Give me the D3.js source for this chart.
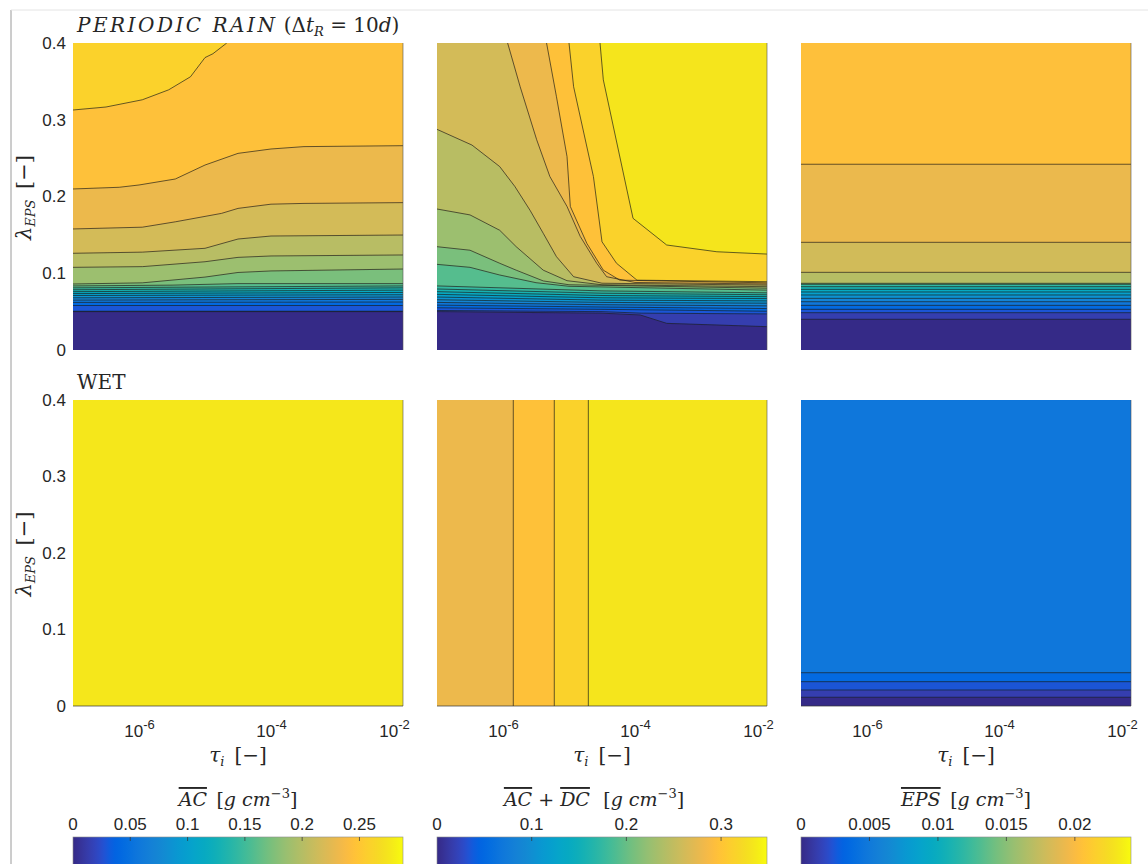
<!DOCTYPE html>
<html>
<head>
<meta charset="utf-8">
<script src="https://cdn.jsdelivr.net/npm/d3@7"></script>
<style>
  body { margin: 0; background: #fff; }
  text { font-family: "Liberation Sans", Arial, sans-serif; fill: #262626; }
  .tex { font-family: "DejaVu Serif", "Liberation Serif", serif; }
</style>
</head>
<body>
<svg id="fig" width="1148" height="864"></svg>
<script>
// ---------------- axis ticks ----------------
const tauDomain = [1e-7, 1e-2];
const lambdaDomain = [0, 0.4];
const tauTicks = [1e-6, 1e-4, 1e-2];
const lambdaTicks = [0, 0.1, 0.2, 0.3, 0.4];

// colour limits and colourbar ticks of the three columns
const climAC = 0.288, climACDC = 0.3485, climEPS = 0.0241;
const ticksAC = [0, 0.05, 0.1, 0.15, 0.2, 0.25];
const ticksACDC = [0, 0.1, 0.2, 0.3];
const ticksEPS = [0, 0.005, 0.01, 0.015, 0.02];

// ---------------- contour data ----------------
// Each entry: [level, [[log10 tau, lambda], ...]]; the region with values >= level
// lies on the left-hand side of the vertex order. Base value fills the panel first.

// Periodic rain, AC
const rainACBase = 0;
const rainACLines = [
  [0.0144, [[-7, 0.050], [-2, 0.050]]],
  [0.0288, [[-7, 0.0505], [-2, 0.0505]]],
  [0.0432, [[-7, 0.058], [-2, 0.058]]],
  [0.0576, [[-7, 0.062], [-2, 0.0625]]],
  [0.0720, [[-7, 0.065], [-2, 0.066]]],
  [0.0864, [[-7, 0.068], [-2, 0.069]]],
  [0.1008, [[-7, 0.071], [-2, 0.072]]],
  [0.1152, [[-7, 0.0735], [-2, 0.075]]],
  [0.1296, [[-7, 0.076], [-2, 0.078]]],
  [0.1440, [[-7, 0.0785], [-2, 0.081]]],
  [0.1584, [[-7, 0.081], [-2, 0.0835]]],
  [0.1728, [[-7, 0.0835], [-5.5, 0.0845], [-4.5, 0.0865], [-2, 0.0865]]],
  [0.1872, [[-7, 0.086], [-5.95, 0.0875], [-5.0, 0.095], [-4.5, 0.101], [-4.0, 0.103], [-2, 0.1055]]],
  [0.2016, [[-7, 0.1077], [-5.95, 0.1086], [-5.0, 0.115], [-4.5, 0.1207], [-4.0, 0.1225], [-2, 0.1238]]],
  [0.2160, [[-7, 0.126], [-5.95, 0.1275], [-5.0, 0.1325], [-4.5, 0.1446], [-4.0, 0.1485], [-2, 0.1498]]],
  [0.2304, [[-7, 0.1577], [-5.95, 0.160], [-5.45, 0.167], [-4.75, 0.178], [-4.5, 0.1845], [-4.0, 0.190], [-3.5, 0.191], [-2, 0.192]]],
  [0.2448, [[-7, 0.2098], [-6.3, 0.212], [-6.0, 0.215], [-5.45, 0.2228], [-5.0, 0.241], [-4.5, 0.2562], [-4.0, 0.2619], [-3.5, 0.265], [-2, 0.2662]]],
  [0.2592, [[-7, 0.3127], [-6.5, 0.3166], [-5.95, 0.326], [-5.55, 0.339], [-5.22, 0.356], [-5.0, 0.381], [-4.88, 0.386], [-4.67, 0.4]]]
];

// Periodic rain, AC + DC
const rainACDCBase = 0;
const rainACDCLines = [
  [0.0174, [[-7, 0.050], [-4.5, 0.048], [-3.92, 0.0456], [-3.52, 0.0347], [-2, 0.0304]]],
  [0.0349, [[-7, 0.0515], [-4.5, 0.050], [-3.9, 0.048], [-2, 0.047]]],
  [0.0523, [[-7, 0.0550], [-4.5, 0.053], [-2, 0.0505]]],
  [0.0698, [[-7, 0.0585], [-4.5, 0.056], [-2, 0.054]]],
  [0.0872, [[-7, 0.0620], [-4.5, 0.059], [-2, 0.0575]]],
  [0.1047, [[-7, 0.0655], [-4.5, 0.062], [-2, 0.061]]],
  [0.1221, [[-7, 0.0690], [-4.5, 0.065], [-2, 0.064]]],
  [0.1396, [[-7, 0.0725], [-4.5, 0.068], [-2, 0.067]]],
  [0.1570, [[-7, 0.0760], [-4.5, 0.071], [-2, 0.0695]]],
  [0.1745, [[-7, 0.0795], [-4.5, 0.074], [-2, 0.072]]],
  [0.1919, [[-7, 0.0835], [-4.5, 0.077], [-2, 0.0745]]],
  [0.2094, [[-7, 0.1116], [-6.5, 0.1077], [-6.05, 0.0977], [-5.5, 0.0877], [-5.0, 0.083], [-2, 0.078]]],
  [0.2268, [[-7, 0.1346], [-6.5, 0.130], [-6.05, 0.113], [-5.8, 0.104], [-5.39, 0.090], [-5.0, 0.085], [-2, 0.0805]]],
  [0.2443, [[-7, 0.1837], [-6.5, 0.176], [-6.05, 0.156], [-5.8, 0.1346], [-5.39, 0.104], [-5.03, 0.0903], [-4.5, 0.085], [-2, 0.0825]]],
  [0.2617, [[-7, 0.2875], [-6.47, 0.267], [-6.05, 0.239], [-5.82, 0.213], [-5.59, 0.182], [-5.39, 0.152], [-5.19, 0.1216], [-4.93, 0.0955], [-4.5, 0.087], [-2, 0.0845]]],
  [0.2792, [[-5.93, 0.4], [-5.74, 0.343], [-5.49, 0.274], [-5.29, 0.226], [-5.03, 0.187], [-4.83, 0.148], [-4.58, 0.113], [-4.43, 0.0955], [-4.0, 0.088], [-2, 0.086]]],
  [0.2966, [[-5.34, 0.4], [-5.19, 0.33], [-5.03, 0.252], [-4.98, 0.187], [-4.73, 0.139], [-4.48, 0.104], [-4.23, 0.091], [-2, 0.0875]]],
  [0.3141, [[-5.0, 0.4], [-4.93, 0.343], [-4.63, 0.226], [-4.5, 0.141], [-4.28, 0.113], [-3.97, 0.091], [-2, 0.089]]],
  [0.3330, [[-4.53, 0.4], [-4.48, 0.352], [-4.03, 0.1716], [-3.52, 0.1368], [-2.76, 0.128], [-2, 0.125]]]
];

// Periodic rain, EPS
const rainEPSBase = 0;
const rainEPSLines = [
  [0.0012, [[-7, 0.0400], [-2, 0.0400]]],
  [0.0024, [[-7, 0.0486], [-2, 0.0486]]],
  [0.0036, [[-7, 0.0530], [-2, 0.0530]]],
  [0.0048, [[-7, 0.0582], [-2, 0.0582]]],
  [0.0060, [[-7, 0.0629], [-2, 0.0629]]],
  [0.0072, [[-7, 0.0673], [-2, 0.0673]]],
  [0.0084, [[-7, 0.0717], [-2, 0.0717]]],
  [0.0096, [[-7, 0.0756], [-2, 0.0756]]],
  [0.0108, [[-7, 0.0790], [-2, 0.0790]]],
  [0.0120, [[-7, 0.0825], [-2, 0.0825]]],
  [0.0132, [[-7, 0.0856], [-2, 0.0856]]],
  [0.0168, [[-7, 0.0869], [-2, 0.0869]]],
  [0.0180, [[-7, 0.1012], [-2, 0.1012]]],
  [0.0192, [[-7, 0.1403], [-2, 0.1403]]],
  [0.0204, [[-7, 0.2420], [-2, 0.2420]]]
];

// Wet, AC
const wetACBase = 0.2760;
const wetACLines = [];

// Wet, AC + DC
const wetACDCBase = 0.2792;
const wetACDCLines = [
  [0.2966, [[-5.844, 0.4], [-5.844, 0]]],
  [0.3141, [[-5.223, 0.4], [-5.223, 0]]],
  [0.3330, [[-4.707, 0.4], [-4.707, 0]]]
];

// Wet, EPS
const wetEPSBase = 0;
const wetEPSLines = [
  [0.0012, [[-7, 0.0114], [-2, 0.0114]]],
  [0.0024, [[-7, 0.0209], [-2, 0.0209]]],
  [0.0036, [[-7, 0.0318], [-2, 0.0318]]],
  [0.0048, [[-7, 0.0435], [-2, 0.0435]]]
];

// ---------------- parula colour map ----------------
const parulaRGB = [
  [0.2081,0.1663,0.5292],[0.2116,0.1898,0.5777],[0.2123,0.2138,0.6270],[0.2081,0.2386,0.6771],
  [0.1959,0.2645,0.7279],[0.1707,0.2919,0.7792],[0.1253,0.3242,0.8303],[0.0591,0.3598,0.8683],
  [0.0117,0.3875,0.8820],[0.0060,0.4086,0.8828],[0.0165,0.4266,0.8786],[0.0329,0.4430,0.8720],
  [0.0498,0.4586,0.8641],[0.0629,0.4737,0.8554],[0.0723,0.4887,0.8467],[0.0779,0.5040,0.8384],
  [0.0793,0.5200,0.8312],[0.0749,0.5375,0.8263],[0.0641,0.5570,0.8240],[0.0488,0.5772,0.8228],
  [0.0343,0.5966,0.8199],[0.0265,0.6137,0.8135],[0.0239,0.6287,0.8038],[0.0231,0.6418,0.7913],
  [0.0228,0.6535,0.7768],[0.0267,0.6642,0.7607],[0.0384,0.6743,0.7436],[0.0590,0.6838,0.7254],
  [0.0843,0.6928,0.7062],[0.1133,0.7015,0.6859],[0.1453,0.7098,0.6646],[0.1801,0.7177,0.6424],
  [0.2178,0.7250,0.6193],[0.2586,0.7317,0.5954],[0.3022,0.7376,0.5712],[0.3482,0.7424,0.5473],
  [0.3953,0.7459,0.5244],[0.4420,0.7481,0.5033],[0.4871,0.7491,0.4840],[0.5300,0.7491,0.4661],
  [0.5709,0.7485,0.4494],[0.6099,0.7473,0.4337],[0.6473,0.7456,0.4188],[0.6834,0.7435,0.4044],
  [0.7184,0.7411,0.3905],[0.7525,0.7384,0.3768],[0.7858,0.7356,0.3633],[0.8185,0.7327,0.3498],
  [0.8507,0.7299,0.3360],[0.8824,0.7274,0.3217],[0.9139,0.7258,0.3063],[0.9450,0.7261,0.2886],
  [0.9739,0.7314,0.2666],[0.9938,0.7455,0.2403],[0.9990,0.7653,0.2164],[0.9955,0.7861,0.1967],
  [0.9880,0.8066,0.1794],[0.9789,0.8271,0.1633],[0.9697,0.8481,0.1475],[0.9626,0.8705,0.1309],
  [0.9589,0.8949,0.1132],[0.9598,0.9218,0.0948],[0.9661,0.9514,0.0755],[0.9763,0.9831,0.0538]
];
const parulaHex = parulaRGB.map(c => d3.rgb(c[0] * 255, c[1] * 255, c[2] * 255).formatHex());
const parula = d3.piecewise(d3.interpolateRgb, parulaHex);

// ---------------- layout ----------------
const colX = [[73, 403], [437, 767], [801, 1131]];
const rowY = [[43, 350], [400, 706]];

const svg = d3.select("#fig");

// thin frame lines at the figure's left and top
svg.append("line").attr("x1", 11).attr("x2", 11).attr("y1", 10).attr("y2", 864)
  .attr("stroke", "#9a9a9a").attr("stroke-width", 1);
svg.append("line").attr("x1", 11).attr("x2", 1148).attr("y1", 10).attr("y2", 10)
  .attr("stroke", "#e4e4e4").attr("stroke-width", 1);

const panels = [
  { row: 0, col: 0, base: rainACBase, lines: rainACLines, clim: climAC },
  { row: 0, col: 1, base: rainACDCBase, lines: rainACDCLines, clim: climACDC },
  { row: 0, col: 2, base: rainEPSBase, lines: rainEPSLines, clim: climEPS },
  { row: 1, col: 0, base: wetACBase, lines: wetACLines, clim: climAC },
  { row: 1, col: 1, base: wetACDCBase, lines: wetACDCLines, clim: climACDC },
  { row: 1, col: 2, base: wetEPSBase, lines: wetEPSLines, clim: climEPS }
];

function drawPanel(p, i) {
  const [x0, x1] = colX[p.col];
  const [y0, y1] = rowY[p.row];
  const xs = d3.scaleLog().domain(tauDomain).range([x0, x1]);
  const ys = d3.scaleLinear().domain(lambdaDomain).range([y1, y0]);
  const color = d3.scaleSequential([0, p.clim], parula).clamp(true);
  const g = svg.append("g");

  const clipId = "clip" + i;
  svg.append("clipPath").attr("id", clipId).append("rect")
    .attr("x", x0).attr("y", y0).attr("width", x1 - x0).attr("height", y1 - y0);
  const body = g.append("g").attr("clip-path", `url(#${clipId})`);

  // data-space boundary, walked counter-clockwise by perimeter parameter s
  const lx0 = Math.log10(tauDomain[0]), lx1 = Math.log10(tauDomain[1]);
  const ly0 = lambdaDomain[0], ly1 = lambdaDomain[1];
  const Wd = lx1 - lx0, Hd = ly1 - ly0, P = 2 * (Wd + Hd);
  const eps = 1e-9;
  const perim = ([x, y]) => {
    if (Math.abs(y - ly0) < eps) return x - lx0;
    if (Math.abs(x - lx1) < eps) return Wd + (y - ly0);
    if (Math.abs(y - ly1) < eps) return Wd + Hd + (lx1 - x);
    return 2 * Wd + Hd + (ly1 - y);
  };
  const corners = [[0, [lx0, ly0]], [Wd, [lx1, ly0]], [Wd + Hd, [lx1, ly1]], [2 * Wd + Hd, [lx0, ly1]]];

  const toXY = d => [xs(Math.pow(10, d[0])), ys(d[1])];
  const line = d3.line().x(d => toXY(d)[0]).y(d => toXY(d)[1]);

  // base fill
  body.append("rect").attr("x", x0).attr("y", y0).attr("width", x1 - x0).attr("height", y1 - y0)
    .attr("fill", color(p.base));

  // super-level regions, lowest level first
  const sorted = p.lines.slice().sort((a, b) => a[0] - b[0]);
  sorted.forEach(([level, pts]) => {
    const sEnd = perim(pts[pts.length - 1]);
    let sStart = perim(pts[0]);
    if (sStart <= sEnd) sStart += P;
    const extra = [];
    [0, 1].forEach(lap => corners.forEach(([s, c]) => {
      const ss = s + lap * P;
      if (ss > sEnd + eps && ss < sStart - eps) extra.push([ss, c]);
    }));
    extra.sort((a, b) => a[0] - b[0]);
    const poly = pts.concat(extra.map(e => e[1]));
    body.append("path").attr("d", line(poly) + "Z")
      .attr("fill", color(level)).attr("stroke", color(level)).attr("stroke-width", 0.6);
  });

  // contour lines
  sorted.forEach(([level, pts]) => {
    body.append("path").attr("d", line(pts)).attr("fill", "none")
      .attr("stroke", "#1a1a1a").attr("stroke-width", 0.8).attr("stroke-opacity", 0.85);
  });

  // right and bottom edges
  g.append("path").attr("d", `M${x1},${y0}V${y1}`).attr("stroke", "#555").attr("stroke-opacity", 0.6).attr("stroke-width", 1);
  if (p.row === 1) g.append("path").attr("d", `M${x0},${y1}H${x1}`).attr("stroke", "#333").attr("stroke-opacity", 0.7).attr("stroke-width", 1);

  // y axis (left column only)
  if (p.col === 0) {
    const ya = g.append("g").attr("transform", `translate(${x0},0)`)
      .call(d3.axisLeft(ys).tickValues(lambdaTicks).tickSize(0).tickPadding(7)
        .tickFormat(d => d === 0 ? "0" : d3.format(".1f")(d)));
    ya.select(".domain").remove();
    ya.selectAll("text").attr("font-size", 17).attr("fill", "#262626");

    const lab = g.append("text").attr("class", "tex").attr("font-size", 21)
      .attr("text-anchor", "middle")
      .attr("transform", `translate(31,${(y0 + y1) / 2 + 1}) rotate(-90)`);
    lab.append("tspan").attr("font-style", "italic").text("λ");
    lab.append("tspan").attr("font-style", "italic").attr("font-size", 13).attr("dy", 4).text("EPS");
    lab.append("tspan").attr("dy", -4).text("\u2002[\u2212]");
  }

  // x axis (bottom row only)
  if (p.row === 1) {
    const xa = g.append("g").attr("transform", `translate(0,${y1})`)
      .call(d3.axisBottom(xs).tickValues(tauTicks).tickSize(0).tickFormat(""));
    xa.select(".domain").remove();
    xa.selectAll(".tick text").each(function (d, j) {
      const t = d3.select(this).attr("y", 31).attr("dy", null).attr("font-size", 17)
        .attr("fill", "#262626")
        .attr("dx", j === tauTicks.length - 1 ? -9 : 0);
      t.append("tspan").text("10");
      t.append("tspan").attr("font-size", 13).attr("dy", -8).text(String(Math.round(Math.log10(d))));
    });
    const xl = g.append("text").attr("class", "tex").attr("font-size", 20).attr("text-anchor", "middle")
      .attr("x", (x0 + x1) / 2).attr("y", 762);
    xl.append("tspan").attr("font-style", "italic").text("τ");
    xl.append("tspan").attr("font-style", "italic").attr("font-size", 13).attr("dy", 4).text("i");
    xl.append("tspan").attr("dy", -4).text("\u2002[\u2212]");
  }
}
panels.forEach(drawPanel);

// row titles
const t1 = svg.append("text").attr("class", "tex").attr("font-size", 20).attr("x", 77).attr("y", 32);
t1.append("tspan").attr("font-style", "italic").attr("letter-spacing", 2.5).text("PERIODIC RAIN");
t1.append("tspan").text(" (Δ");
t1.append("tspan").attr("font-style", "italic").text("t");
t1.append("tspan").attr("font-style", "italic").attr("font-size", 13).attr("dy", 4).text("R");
t1.append("tspan").attr("dy", -4).text(" = 10");
t1.append("tspan").attr("font-style", "italic").text("d");
t1.append("tspan").text(")");

svg.append("text").attr("class", "tex").attr("font-size", 20).attr("x", 77).attr("y", 389).text("WET");

// ---------------- colour bars ----------------
const grad = svg.append("defs").append("linearGradient").attr("id", "parulaGrad");
parulaHex.forEach((c, i) => grad.append("stop").attr("offset", i / (parulaHex.length - 1)).attr("stop-color", c));

const bars = [
  { col: 0, clim: climAC, ticks: ticksAC, title: [["AC", true]] },
  { col: 1, clim: climACDC, ticks: ticksACDC, title: [["AC", true], [" + ", false], ["DC", true]] },
  { col: 2, clim: climEPS, ticks: ticksEPS, title: [["EPS", true]] }
];
const barTop = 837, barH = 40;
bars.forEach(b => {
  const [x0, x1] = colX[b.col];
  const cs = d3.scaleLinear().domain([0, b.clim]).range([x0, x1]);
  const g = svg.append("g");
  g.append("rect").attr("x", x0).attr("y", barTop).attr("width", x1 - x0).attr("height", barH)
    .attr("fill", "url(#parulaGrad)").attr("stroke", "#8c8c8c").attr("stroke-width", 0.6);
  g.selectAll(".cbt").data(b.ticks.filter(d => d > 0)).join("line")
    .attr("x1", d => cs(d)).attr("x2", d => cs(d)).attr("y1", barTop).attr("y2", barTop + 4)
    .attr("stroke", "#333").attr("stroke-opacity", 0.7).attr("stroke-width", 1);
  g.selectAll(".cbl").data(b.ticks).join("text")
    .attr("x", d => cs(d)).attr("y", 830).attr("text-anchor", "middle").attr("font-size", 17)
    .text(d => String(d));
  const tt = g.append("text").attr("class", "tex").attr("font-size", 19).attr("text-anchor", "middle")
    .attr("x", (x0 + x1) / 2 - (b.col === 1 ? 8 : 0)).attr("y", 806);
  b.title.forEach(([s, over]) => {
    const sp = tt.append("tspan").attr("font-style", over ? "italic" : "normal").text(s);
    if (over) sp.attr("text-decoration", "overline");
  });
  tt.append("tspan").text(b.col === 1 ? "\u2002\u2009[" : "\u2002[");
  tt.append("tspan").attr("font-style", "italic").text("g cm");
  tt.append("tspan").attr("font-size", 13).attr("dy", -8).text("\u22123");
  tt.append("tspan").attr("dy", 8).text("]");
});
</script>
</body>
</html>
